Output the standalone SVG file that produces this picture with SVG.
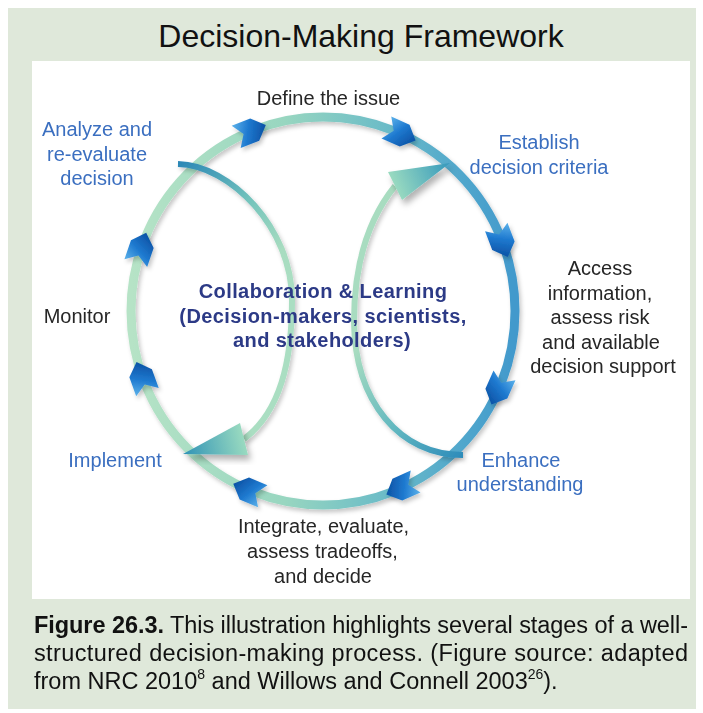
<svg xmlns="http://www.w3.org/2000/svg" width="703" height="713" viewBox="0 0 703 713">
<style>
text{font-family:"Liberation Sans",Arial,Helvetica,sans-serif}
.blue{fill:#3b6fc0;font-size:20px;text-anchor:middle}
.dark{fill:#262626;font-size:20px;text-anchor:middle}
.center{fill:#2c3a86;font-size:20px;font-weight:bold;text-anchor:middle;letter-spacing:0.4px}
.title{fill:#111;font-size:32px;text-anchor:middle}
.cap{fill:#111;font-size:23.5px}
.arc{fill:none}
</style>
<defs>
  <linearGradient id="gOuter" gradientUnits="userSpaceOnUse" x1="131" y1="0" x2="515" y2="0">
    <stop offset="0" stop-color="#b6e3c6"/>
    <stop offset="0.4" stop-color="#98d6c0"/>
    <stop offset="0.62" stop-color="#72c0c6"/>
    <stop offset="0.85" stop-color="#52a8cc"/>
    <stop offset="1" stop-color="#4299cc"/>
  </linearGradient>
  <linearGradient id="gLeft" gradientUnits="userSpaceOnUse" x1="180" y1="160" x2="285" y2="290">
    <stop offset="0" stop-color="#2a86b6"/>
    <stop offset="0.45" stop-color="#74c4bc"/>
    <stop offset="0.8" stop-color="#a8dcc0"/>
    <stop offset="1" stop-color="#aadec2"/>
  </linearGradient>
  <linearGradient id="gRight" gradientUnits="userSpaceOnUse" x1="463" y1="455" x2="356" y2="350">
    <stop offset="0" stop-color="#2e8cba"/>
    <stop offset="0.45" stop-color="#62b8c0"/>
    <stop offset="1" stop-color="#a8dcc0"/>
  </linearGradient>
  <linearGradient id="gTriL" gradientUnits="userSpaceOnUse" x1="246" y1="439" x2="183" y2="454">
    <stop offset="0" stop-color="#9cdcc0"/>
    <stop offset="1" stop-color="#2f92b6"/>
  </linearGradient>
  <linearGradient id="gTriR" gradientUnits="userSpaceOnUse" x1="393" y1="187" x2="450" y2="163">
    <stop offset="0" stop-color="#9cdcc0"/>
    <stop offset="1" stop-color="#3598bc"/>
  </linearGradient>
  <linearGradient id="gChev" x1="0" y1="0" x2="1" y2="0.4">
    <stop offset="0" stop-color="#5cb2ea"/>
    <stop offset="0.5" stop-color="#1f7ad0"/>
    <stop offset="1" stop-color="#0d55a8"/>
  </linearGradient>
  <filter id="sh" x="-20%" y="-20%" width="140%" height="140%">
    <feDropShadow dx="2" dy="3" stdDeviation="2" flood-color="#000" flood-opacity="0.22"/>
  </filter>
  <filter id="shT" x="-30%" y="-30%" width="160%" height="160%">
    <feDropShadow dx="3" dy="5" stdDeviation="3" flood-color="#000" flood-opacity="0.3"/>
  </filter>
  <path id="chev" d="M-16,-12 L4,-12 L16,0 L4,12 L-16,12 L-8,0 Z" fill="url(#gChev)"/>
</defs>

<rect x="8" y="8" width="688" height="701" fill="#dfe8da"/>
<rect x="32" y="61" width="658" height="538" fill="#ffffff"/>

<g id="title">
  <text class="title" x="361" y="46.5">Decision-Making Framework</text>
</g>

<g id="connectors">
  <ellipse class="arc" cx="323" cy="311" rx="192" ry="194" stroke="url(#gOuter)" stroke-width="9" filter="url(#sh)"/>
  <path class="arc" d="M178,164 C230,165 292,228 292,300 C292,362 280,412 244,439" stroke="url(#gLeft)" stroke-width="6" filter="url(#sh)"/>
  <polygon points="183,454 240,423 248,455" fill="url(#gTriL)" filter="url(#shT)"/>
  <path class="arc" d="M463,455 C400,455 355,402 354,322 C354,270 366,222 395,186" stroke="url(#gRight)" stroke-width="6" filter="url(#sh)"/>
  <polygon points="450,163 388,172 402,200" fill="url(#gTriR)" filter="url(#shT)"/>
  <g filter="url(#sh)">
    <use href="#chev" transform="translate(251,131) rotate(-22)"/>
    <use href="#chev" transform="translate(401,134) rotate(24)"/>
    <use href="#chev" transform="translate(502,242) rotate(69)"/>
    <use href="#chev" transform="translate(498,390) rotate(114)"/>
    <use href="#chev" transform="translate(401,488) rotate(156)"/>
    <use href="#chev" transform="translate(248,490) rotate(203)"/>
    <use href="#chev" transform="translate(142,377) rotate(-110)"/>
    <use href="#chev" transform="translate(141,248) rotate(-71)"/>
  </g>
</g>

<g id="node-define">
  <text class="dark" x="328.5" y="105">Define the issue</text>
</g>
<g id="node-establish">
  <text class="blue" x="539" y="149">Establish</text>
  <text class="blue" x="539" y="174">decision criteria</text>
</g>
<g id="node-access">
  <text class="dark" x="600" y="275">Access</text>
  <text class="dark" x="600" y="300">information,</text>
  <text class="dark" x="600" y="324">assess risk</text>
  <text class="dark" x="601" y="349">and available</text>
  <text class="dark" x="603" y="373">decision support</text>
</g>
<g id="node-enhance">
  <text class="blue" x="521" y="467">Enhance</text>
  <text class="blue" x="520" y="491">understanding</text>
</g>
<g id="node-integrate">
  <text class="dark" x="323.5" y="533">Integrate, evaluate,</text>
  <text class="dark" x="322.5" y="558">assess tradeoffs,</text>
  <text class="dark" x="323" y="583">and decide</text>
</g>
<g id="node-implement">
  <text class="blue" x="115" y="467">Implement</text>
</g>
<g id="node-monitor">
  <text class="dark" x="77" y="323">Monitor</text>
</g>
<g id="node-analyze">
  <text class="blue" x="97" y="136">Analyze and</text>
  <text class="blue" x="97" y="161">re-evaluate</text>
  <text class="blue" x="97" y="185">decision</text>
</g>
<g id="node-center">
  <text class="center" x="323" y="298">Collaboration &amp; Learning</text>
  <text class="center" x="323" y="323">(Decision-makers, scientists,</text>
  <text class="center" x="322" y="347">and stakeholders)</text>
</g>

<g id="caption">
  <text class="cap" x="34" y="633" textLength="654" lengthAdjust="spacing"><tspan font-weight="bold">Figure 26.3.</tspan> This illustration highlights several stages of a well-</text>
  <text class="cap" x="34" y="661" textLength="654" lengthAdjust="spacing">structured decision-making process. (Figure source: adapted</text>
  <text class="cap" x="34" y="689">from NRC 2010<tspan font-size="14" dy="-10">8</tspan><tspan dy="10"> and Willows and Connell 2003</tspan><tspan font-size="14" dy="-10">26</tspan><tspan dy="10">).</tspan></text>
</g>
</svg>
